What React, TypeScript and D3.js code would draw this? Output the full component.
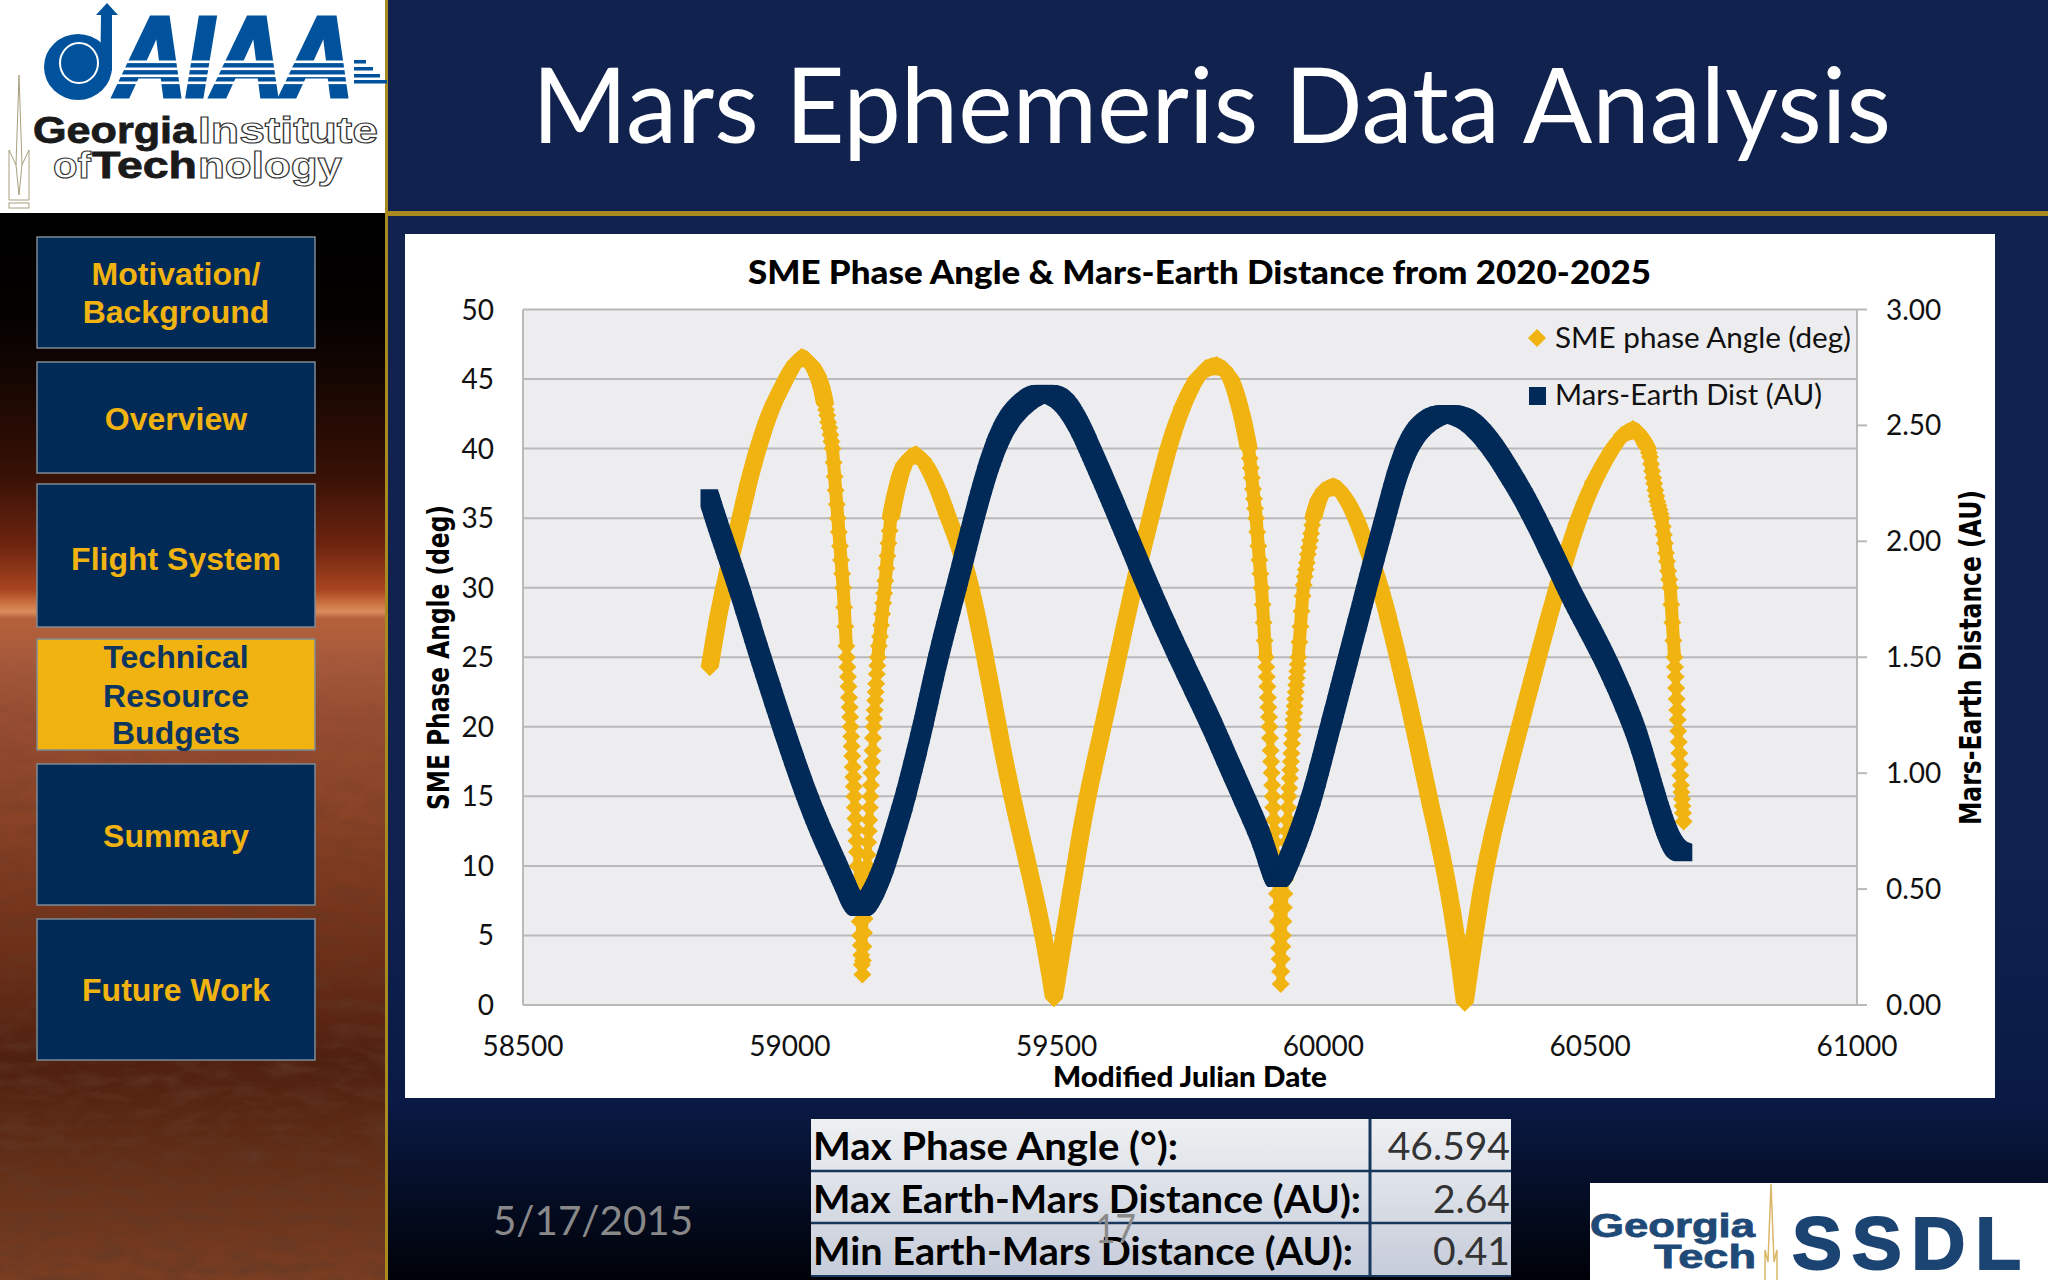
import React from "react";
import * as d3 from "d3";

type Pair = [number, number];

const chartTitle = "SME Phase Angle & Mars-Earth Distance from 2020-2025";
const xTicks = [58500, 59000, 59500, 60000, 60500, 61000];
const phaseTicks = [0, 5, 10, 15, 20, 25, 30, 35, 40, 45, 50];
const distTicks = [0, 0.5, 1, 1.5, 2, 2.5, 3];

// SME phase angle, [MJD, degrees]
const phaseRise1: Pair[] = [
  [58850, 24.3], [58858, 26.2], [58867, 28.2], [58877, 30], [58892, 32.6], [58907, 34.9], [58922, 37.5], [58940, 40], [58955, 41.8], [58970, 43.3], [58985, 44.4], [58998, 45.4], [59010, 46.2], [59022, 46.59], [59032, 46.4], [59042, 46], [59052, 45.3], [59060, 44.4], [59066, 43.2],
];
const phaseCusp1: Pair[] = [
  [59068, 42.8], [59070, 42.4], [59072, 41.9], [59074, 41.5], [59076, 41], [59078, 40.5], [59080, 40], [59082, 39], [59084, 38], [59086, 37], [59088, 36], [59090, 35], [59092, 34], [59094, 33], [59096, 32], [59098, 31], [59100, 30], [59102, 28.6], [59104, 27.2], [59106, 25.8],
  [59107, 25], [59108, 24.3], [59109, 23.6], [59110, 22.9], [59111, 22.1], [59112, 21.4], [59113, 20.7], [59114, 20], [59115, 19.3], [59116, 18.6], [59117, 17.9], [59118, 17.1], [59119, 16.4], [59120, 15.7], [59121, 15], [59122, 14.2], [59123, 13.4], [59124, 12.6], [59125, 11.8], [59126, 11], [59127, 10], [59128, 9], [59129, 8], [59130, 7], [59131, 6], [59132, 5], [59133, 4.3], [59134, 3.6], [59135, 2.9], [59136, 2.2],
  [59137, 3.2], [59138, 4.2], [59139, 5.2], [59140, 6.2], [59141, 7.1], [59142, 8], [59143, 8.7], [59144, 9.4], [59145, 10], [59146, 10.8], [59147, 11.7], [59148, 12.5], [59149, 13.3], [59150, 14.2], [59151, 15], [59152, 15.8], [59153, 16.7], [59154, 17.5], [59155, 18.3], [59156, 19.2], [59157, 20], [59158, 20.6], [59159, 21.2], [59160, 21.9], [59161, 22.5], [59162, 23.1], [59163, 23.8], [59164, 24.4], [59165, 25],
  [59167, 25.8], [59169, 26.5], [59171, 27.3], [59173, 28.1], [59175, 28.9], [59177, 29.6], [59179, 30.5], [59181, 31.4], [59183, 32.3], [59185, 33.2], [59187, 34.1], [59189, 35],
];
const phaseArc2: Pair[] = [
  [59196, 36.4], [59206, 38], [59214, 38.9], [59225, 39.4], [59237, 39.6], [59250, 39.2], [59262, 38.4], [59280, 36.9], [59297, 35], [59318, 33], [59340, 30], [59364, 25.5], [59390, 20], [59416, 15], [59447, 10], [59476, 5], [59495, 0.5], [59514, 5], [59535, 10], [59557, 15], [59587, 20], [59615, 25], [59643, 30], [59676, 35], [59708, 40], [59735, 43], [59760, 45], [59780, 45.8], [59800, 46], [59815, 45.7], [59828, 45], [59840, 43.5], [59850, 42], [59860, 40],
];
const phaseCusp2: Pair[] = [
  [59862, 39.3], [59864, 38.6], [59866, 37.9], [59868, 37.1], [59870, 36.4], [59872, 35.7], [59874, 35], [59876, 34], [59878, 33], [59880, 32], [59882, 31], [59884, 30], [59886, 28.8], [59888, 27.5], [59890, 26.2], [59892, 25],
  [59893, 24.3], [59894, 23.6], [59895, 22.9], [59896, 22.1], [59897, 21.4], [59898, 20.7], [59899, 20], [59900, 19.2], [59901, 18.3], [59902, 17.5], [59903, 16.7], [59904, 15.8], [59905, 15], [59906, 14.2], [59907, 13.3], [59908, 12.5], [59909, 11.7], [59910, 10.8], [59911, 10], [59912, 9], [59913, 8], [59914, 7], [59915, 6], [59916, 5], [59917, 4.1], [59918, 3.3], [59919, 2.4], [59920, 1.5],
  [59921, 2.4], [59922, 3.3], [59923, 4.2], [59924, 5], [59925, 6], [59926, 7], [59927, 8], [59928, 9], [59929, 10], [59930, 10.8], [59931, 11.7], [59932, 12.5], [59933, 13.3], [59934, 14.2], [59935, 15], [59936, 15.6], [59937, 16.3], [59938, 16.9], [59939, 17.5], [59940, 18.1], [59941, 18.8], [59942, 19.4], [59943, 20], [59944, 20.5], [59945, 21], [59946, 21.5], [59947, 22], [59948, 22.5], [59949, 23], [59950, 23.5], [59951, 24], [59952, 24.5], [59953, 25],
  [59955, 26.1], [59957, 27.2], [59959, 28.3], [59961, 29.4], [59963, 30.2], [59965, 30.8], [59967, 31.3], [59969, 31.8], [59971, 32.4], [59973, 32.9], [59975, 33.4], [59977, 33.9], [59979, 34.5], [59981, 35],
];
const phaseArc3: Pair[] = [
  [59990, 36.3], [60000, 37], [60018, 37.3], [60030, 37.1], [60044, 36.3], [60062, 35], [60085, 32.5], [60108, 30], [60140, 25], [60170, 20], [60197, 15], [60227, 10], [60249, 5], [60265, 0.17], [60283, 5], [60303, 10], [60334, 15], [60368, 20], [60402, 25], [60440, 30.3], [60474, 34.6], [60505, 37.6], [60541, 40], [60560, 41], [60580, 41.4], [60590, 41.2], [60600, 40.6], [60608, 40],
];
const phaseEnd: Pair[] = [
  [60610, 39.7], [60612, 39.4], [60614, 38.9], [60616, 38.4], [60618, 37.9], [60620, 37.5], [60622, 37], [60624, 36.6], [60626, 36.2], [60628, 35.9], [60630, 35.6], [60632, 35.3], [60634, 35], [60636, 34.4], [60638, 33.8], [60640, 33.2], [60642, 32.5], [60644, 31.9], [60646, 31.2], [60648, 30.6], [60650, 30], [60652, 28.8], [60654, 27.5], [60656, 26.2], [60658, 25],
  [60659, 24.3], [60660, 23.6], [60661, 22.8], [60662, 22], [60663, 21.2], [60664, 20.5], [60665, 19.7], [60666, 18.9], [60667, 18.1], [60668, 17.3], [60669, 16.5], [60670, 15.8], [60671, 15.3], [60672, 14.8], [60673, 14.3], [60674, 13.8], [60675, 13.2],
];
const phaseData = [...phaseRise1, ...phaseCusp1, ...phaseArc2, ...phaseCusp2, ...phaseArc3, ...phaseEnd];

// Mars-Earth distance, [MJD, AU]
const distFall1: Pair[] = [
  [58849, 2.187], [58862, 2.09], [58885, 1.935], [58905, 1.8], [58925, 1.65], [58945, 1.5], [58966, 1.35], [58987, 1.2], [59010, 1.045], [59032, 0.9], [59060, 0.74], [59090, 0.59], [59105, 0.51], [59118, 0.44], [59131, 0.414],
];
const distRise1: Pair[] = [
  [59144, 0.435], [59160, 0.5], [59178, 0.6], [59197, 0.745], [59217, 0.9], [59232, 1.04], [59248, 1.19], [59262, 1.335], [59276, 1.48], [59294, 1.645], [59312, 1.8], [59328, 1.945], [59345, 2.1], [59365, 2.27], [59385, 2.41], [59405, 2.51], [59425, 2.57], [59445, 2.61], [59460, 2.632], [59477, 2.64],
];
const distFall2: Pair[] = [
  [59495, 2.632], [59510, 2.61], [59525, 2.57], [59545, 2.49], [59564, 2.39], [59588, 2.265], [59609, 2.15], [59640, 1.98], [59672, 1.8], [59701, 1.65], [59731, 1.5], [59762, 1.35], [59793, 1.2], [59821, 1.05], [59850, 0.9], [59881, 0.74], [59892, 0.66], [59902, 0.59], [59908, 0.555], [59913, 0.544],
];
const distRise2: Pair[] = [
  [59918, 0.55], [59925, 0.57], [59934, 0.615], [59956, 0.74], [59979, 0.9], [59996, 1.05], [60013, 1.2], [60030, 1.35], [60047, 1.5], [60064, 1.65], [60081, 1.8], [60098, 1.95], [60116, 2.1], [60135, 2.27], [60155, 2.4], [60175, 2.48], [60200, 2.53], [60220, 2.548], [60235, 2.55],
];
const distFall3: Pair[] = [
  [60250, 2.545], [60270, 2.525], [60290, 2.485], [60310, 2.43], [60330, 2.365], [60350, 2.29], [60379, 2.18], [60420, 1.99], [60458, 1.8], [60490, 1.66], [60527, 1.5], [60560, 1.33], [60588, 1.17], [60607, 1.02], [60622, 0.9], [60638, 0.78], [60653, 0.695], [60664, 0.665], [60675, 0.658],
];
const distData = [...distFall1, ...distRise1, ...distFall2, ...distRise2, ...distFall3];

const navItems = [
  { lines: ["Motivation/", "Background"], base: [285, 323], y: 237, h: 111, active: false },
  { lines: ["Overview"], base: [430], y: 362, h: 111, active: false },
  { lines: ["Flight System"], base: [570], y: 484, h: 143, active: false },
  { lines: ["Technical", "Resource", "Budgets"], base: [668, 707, 744], y: 639, h: 111, active: true },
  { lines: ["Summary"], base: [847], y: 764, h: 141, active: false },
  { lines: ["Future Work"], base: [1001], y: 919, h: 141, active: false },
];
const tableLabels = ["Max Phase Angle (°):", "Max Earth-Mars Distance (AU):", "Min Earth-Mars Distance (AU):"];
const tableLabelWidths = [365, 548, 540];
const tableValues = ["46.594", "2.64", "0.41"];

const GOLD = "#F0B310";
const NAVY = "#022A58";
const LATO = "Lato, 'Open Sans', sans-serif";
const ARIAL = "'Liberation Sans', Arial, sans-serif";

const x = d3.scaleLinear().domain([58500, 61000]).range([523, 1857]);
const yL = d3.scaleLinear().domain([0, 50]).range([1005, 309.5]);
const yR = d3.scaleLinear().domain([0, 3]).range([1005, 309.5]);

const diamondR = 9;
const squareR = 8.7;
const diamond = (px: number, py: number): Pair[] => [
  [px - diamondR, py], [px, py - diamondR], [px + diamondR, py], [px, py + diamondR],
];
const square = (px: number, py: number): Pair[] => [
  [px - squareR, py - squareR], [px + squareR, py - squareR], [px + squareR, py + squareR], [px - squareR, py + squareR],
];
const pts = (a: Pair[]) => a.map((p) => p.map((v) => v.toFixed(1)).join(",")).join(" ");

// Runs a D3 curve and flattens its beziers to a polyline, in pixels.
function flatten(points: Pair[]): Pair[] {
  const out: Pair[] = [];
  let cx = 0;
  let cy = 0;
  const ctx: any = {
    moveTo(a: number, b: number) { out.push([a, b]); cx = a; cy = b; },
    lineTo(a: number, b: number) { out.push([a, b]); cx = a; cy = b; },
    bezierCurveTo(a: number, b: number, c: number, d: number, e: number, f: number) {
      for (let k = 1; k <= 6; k++) {
        const t = k / 6;
        const u = 1 - t;
        out.push([
          u * u * u * cx + 3 * u * u * t * a + 3 * u * t * t * c + t * t * t * e,
          u * u * u * cy + 3 * u * u * t * b + 3 * u * t * t * d + t * t * t * f,
        ]);
      }
      cx = e;
      cy = f;
    },
    closePath() {},
  };
  d3.line().curve(d3.curveBasis).context(ctx)(points);
  return out;
}

// The band that a marker shape draws when it is dragged along a curve.
function sweep(points: Pair[], shape: (a: number, b: number) => Pair[]): Pair[][] {
  const line = flatten(points);
  const out: Pair[][] = [];
  for (let i = 1; i < line.length; i++) {
    const hull = d3.polygonHull([...shape(line[i - 1][0], line[i - 1][1]), ...shape(line[i][0], line[i][1])]);
    if (hull) out.push(hull as Pair[]);
  }
  return out;
}

// Runs of the phase series spaced more than two days apart, broken at the sharp minima.
function sparseRuns(data: Pair[]): Pair[][] {
  const runs: Pair[][] = [];
  let run: Pair[] = [];
  for (let i = 1; i < data.length; i++) {
    if (data[i][0] - data[i - 1][0] > 2) {
      if (!run.length) run.push(data[i - 1]);
      run.push(data[i]);
      const next = data[i + 1];
      if (next && data[i][1] < data[i - 1][1] && data[i][1] < next[1]) {
        runs.push(run);
        run = [];
      }
    } else if (run.length) {
      runs.push(run);
      run = [];
    }
  }
  if (run.length) runs.push(run);
  return runs;
}

const phasePx: Pair[] = phaseData.map(([m, v]) => [x(m), yL(v)]);
const phaseBands = sparseRuns(phaseData).flatMap((r) => sweep(r.map(([m, v]): Pair => [x(m), yL(v)]), diamond));
const distBands = sweep(distData.map(([m, v]): Pair => [x(m), yR(v)]), square);

function Outlined(props: { x: number; y: number; w: number; size: number; children: string }) {
  return (
    <text x={props.x} y={props.y} textLength={props.w} lengthAdjust="spacingAndGlyphs" fontFamily={ARIAL} fontWeight={700} fontSize={props.size} fill="#fff" stroke="#333" strokeWidth={1.1}>
      {props.children}
    </text>
  );
}

function Heavy(props: { x: number; y: number; w: number; size: number; fill: string; extra?: number; children: string }) {
  return (
    <text x={props.x} y={props.y} textLength={props.w} lengthAdjust="spacingAndGlyphs" fontFamily={ARIAL} fontWeight={700} fontSize={props.size} fill={props.fill} stroke={props.fill} strokeWidth={props.extra ?? 0.8}>
      {props.children}
    </text>
  );
}

export default function App() {
  const center = 176;
  return (
    <svg width={2048} height={1280} viewBox="0 0 2048 1280" style={{ position: "absolute", left: 0, top: 0, display: "block" }}>
      <defs>
        <linearGradient id="side" x1="0" y1="0" x2="0" y2="1">
          <stop offset="0" stopColor="#000" />
          <stop offset="0.094" stopColor="#040100" />
          <stop offset="0.157" stopColor="#160602" />
          <stop offset="0.25" stopColor="#3a1206" />
          <stop offset="0.312" stopColor="#6e2510" />
          <stop offset="0.353" stopColor="#a8451f" />
          <stop offset="0.368" stopColor="#d07a48" />
          <stop offset="0.374" stopColor="#d88c5c" />
          <stop offset="0.38" stopColor="#b5613a" />
          <stop offset="0.417" stopColor="#a65a3c" />
          <stop offset="0.469" stopColor="#974e32" />
          <stop offset="0.55" stopColor="#8c4528" />
          <stop offset="0.69" stopColor="#6e3018" />
          <stop offset="0.794" stopColor="#4f2010" />
          <stop offset="0.86" stopColor="#5c2a14" />
          <stop offset="1" stopColor="#7a3e22" />
        </linearGradient>
        <linearGradient id="main" x1="0" y1="0" x2="0" y2="1">
          <stop offset="0" stopColor="#11224F" />
          <stop offset="0.65" stopColor="#11224F" />
          <stop offset="0.86" stopColor="#0a1a45" />
          <stop offset="1" stopColor="#000208" />
        </linearGradient>
        <linearGradient id="cell" x1="0" y1="0" x2="0" y2="1">
          <stop offset="0" stopColor="#eef0f2" />
          <stop offset="1" stopColor="#c6ccda" />
        </linearGradient>
        <linearGradient id="fade" gradientUnits="userSpaceOnUse" x1="0" y1="650" x2="0" y2="1100">
          <stop offset="0" stopColor="#000" />
          <stop offset="1" stopColor="#fff" />
        </linearGradient>
        <mask id="rockMask" maskUnits="userSpaceOnUse" x="0" y="650" width="385" height="630">
          <rect x={0} y={650} width={385} height={630} fill="url(#fade)" />
        </mask>
        <filter id="rock" x="0" y="0" width="1" height="1">
          <feTurbulence type="fractalNoise" baseFrequency="0.03 0.08" numOctaves={4} seed={7} />
          <feColorMatrix values="0 0 0 0 0.12  0 0 0 0 0.04  0 0 0 0 0.02  1.5 0 0 0 -0.6" />
        </filter>
      </defs>

      <rect width={2048} height={1280} fill="url(#main)" />
      <rect x={0} y={213} width={385} height={1067} fill="url(#side)" />
      <g mask="url(#rockMask)">
        <rect x={0} y={650} width={385} height={630} filter="url(#rock)" />
      </g>
      <rect x={385} y={0} width={3} height={1280} fill="#A98A1E" />
      <rect x={385} y={211} width={1663} height={5} fill="#A98A1E" />

      {/* AIAA / Georgia Tech logo */}
      <rect x={0} y={0} width={385} height={213} fill="#fff" />
      <ellipse cx={78} cy={67} rx={34} ry={33} fill="#00529C" />
      <ellipse cx={79} cy={63} rx={19} ry={20} fill="none" stroke="#fff" strokeWidth={2} />
      <path d="M 96 15 L 107 3 L 118 15 L 112 15 L 112 70 L 100 90 L 101 15 Z" fill="#00529C" />
      <text x={116} y={96} textLength={237} lengthAdjust="spacingAndGlyphs" fontFamily={ARIAL} fontWeight={700} fontStyle="italic" fontSize={114} fill="#00529C" stroke="#00529C" strokeWidth={5}>AIAA</text>
      {[62, 69, 76, 83].map((v, i) => (
        <rect key={v} x={122 - i * 2} y={v - 1.5} width={232 + i * 2} height={2.6} fill="#fff" />
      ))}
      {[60, 67, 74, 80].map((v, i) => (
        <rect key={v} x={354} y={v} width={12 + i * 7} height={3.5} fill="#00529C" />
      ))}
      <Heavy x={33} y={143} w={163} size={37} fill="#1a1a1a">Georgia</Heavy>
      <Outlined x={198} y={143} w={180} size={37}>Institute</Outlined>
      <Outlined x={53} y={178} w={38} size={37}>of</Outlined>
      <Heavy x={92} y={178} w={105} size={37} fill="#1a1a1a">Tech</Heavy>
      <Outlined x={198} y={178} w={144} size={37}>nology</Outlined>
      <path d="M 19 75 L 16 165 L 9 150 L 9 200 L 29 200 L 29 150 L 22 165 Z M 16 165 L 19 195 L 22 165" fill="none" stroke="#a89f80" strokeWidth={1} />
      <rect x={9} y={203} width={20} height={5} fill="none" stroke="#a89f80" strokeWidth={1} />

      <text x={1211.5} y={143} textAnchor="middle" textLength={1359} lengthAdjust="spacingAndGlyphs" fontFamily={LATO} fontSize={104} fill="#fff">Mars Ephemeris Data Analysis</text>

      {/* navigation */}
      {navItems.map((n) => (
        <g key={n.lines[0]}>
          <rect x={37} y={n.y} width={278} height={n.h} fill={n.active ? GOLD : "#022A57"} stroke="#7e8a96" strokeWidth={1.5} />
          {n.lines.map((l, i) => (
            <text key={l} x={center} y={n.base[i]} textAnchor="middle" fontFamily={ARIAL} fontWeight={700} fontSize={32} fill={n.active ? "#0E3560" : GOLD}>{l}</text>
          ))}
        </g>
      ))}

      {/* chart panel */}
      <rect x={405} y={234} width={1590} height={864} fill="#fff" />
      <text x={1199.5} y={284} textAnchor="middle" textLength={903} lengthAdjust="spacingAndGlyphs" fontFamily={LATO} fontWeight={900} fontSize={33} fill="#000">{chartTitle}</text>

      <rect x={x(58500)} y={yL(50)} width={x(61000) - x(58500)} height={yL(0) - yL(50)} fill="#EDEDEF" />
      {phaseTicks.map((t) => (
        <line key={t} x1={x(58500)} x2={x(61000)} y1={yL(t)} y2={yL(t)} stroke="#B9B9BA" strokeWidth={2} />
      ))}
      <line x1={x(58500)} x2={x(58500)} y1={yL(50)} y2={yL(0)} stroke="#B9B9BA" strokeWidth={2} />
      <line x1={x(61000)} x2={x(61000)} y1={yL(50)} y2={yL(0)} stroke="#B9B9BA" strokeWidth={2} />
      {distTicks.map((t) => (
        <line key={t} x1={x(61000)} x2={x(61000) + 10} y1={yR(t)} y2={yR(t)} stroke="#B9B9BA" strokeWidth={2} />
      ))}

      {phaseTicks.map((t) => (
        <text key={t} x={494} y={yL(t) + 10} textAnchor="end" fontFamily={LATO} fontSize={28} fill="#111">{t}</text>
      ))}
      {distTicks.map((t) => (
        <text key={t} x={1886} y={yR(t) + 10} fontFamily={LATO} fontSize={28} fill="#111">{t.toFixed(2)}</text>
      ))}
      {xTicks.map((t) => (
        <text key={t} x={x(t)} y={1056} textAnchor="middle" fontFamily={LATO} fontSize={28} fill="#111">{t}</text>
      ))}
      <text x={1190} y={1087} textAnchor="middle" textLength={274} lengthAdjust="spacingAndGlyphs" fontFamily={LATO} fontWeight={900} fontSize={28} fill="#000">Modified Julian Date</text>
      <text transform="translate(449,657.5) rotate(-90)" textAnchor="middle" textLength={305} lengthAdjust="spacingAndGlyphs" fontFamily="'DejaVu Sans', sans-serif" fontWeight={700} fontSize={30} fill="#000">SME Phase Angle (deg)</text>
      <text transform="translate(1981,657.5) rotate(-90)" textAnchor="middle" textLength={335} lengthAdjust="spacingAndGlyphs" fontFamily="'DejaVu Sans', sans-serif" fontWeight={700} fontSize={30} fill="#000">Mars-Earth Distance (AU)</text>

      {/* SME phase angle series */}
      {phasePx.slice(1).map(([px, py], i) => {
        const gap = phaseData[i + 1][0] - phaseData[i][0];
        return gap > 2 ? null : (
          <line key={i} x1={phasePx[i][0]} y1={phasePx[i][1]} x2={px} y2={py} stroke={GOLD} strokeWidth={gap === 2 ? 13 : 8} strokeLinecap="round" />
        );
      })}
      {phaseBands.map((h, i) => (
        <polygon key={i} points={pts(h)} fill={GOLD} />
      ))}
      {phasePx.map(([px, py], i) => (
        <polygon key={i} points={pts(diamond(px, py))} fill={GOLD} />
      ))}

      {/* Mars-Earth distance series */}
      {distBands.map((h, i) => (
        <polygon key={i} points={pts(h)} fill={NAVY} />
      ))}

      {/* legend */}
      <polygon points="1537,329 1546,338 1537,347 1528,338" fill={GOLD} />
      <text x={1555} y={348} textLength={296} lengthAdjust="spacingAndGlyphs" fontFamily={LATO} fontSize={28} fill="#111">SME phase Angle (deg)</text>
      <rect x={1529} y={387} width={17} height={18} fill={NAVY} />
      <text x={1555} y={405} textLength={267} lengthAdjust="spacingAndGlyphs" fontFamily={LATO} fontSize={28} fill="#111">Mars-Earth Dist (AU)</text>

      {/* footer table */}
      <rect x={811} y={1119} width={700} height={157} fill="url(#cell)" />
      {[1171, 1223].map((v) => (
        <line key={v} x1={811} x2={1511} y1={v} y2={v} stroke="#16365C" strokeWidth={2.5} />
      ))}
      <line x1={811} x2={1511} y1={1276} y2={1276} stroke="#16365C" strokeWidth={2} />
      <line x1={1370} x2={1370} y1={1119} y2={1276} stroke="#16365C" strokeWidth={3} />
      {tableLabels.map((l, i) => (
        <g key={l}>
          <text x={813} y={1160 + i * 52.5} textLength={tableLabelWidths[i]} lengthAdjust="spacingAndGlyphs" fontFamily={LATO} fontWeight={700} fontSize={39} fill="#000">{l}</text>
          <text x={1510} y={1160 + i * 52.5} textAnchor="end" fontFamily={LATO} fontSize={39} fill="#333">{tableValues[i]}</text>
        </g>
      ))}
      <text x={493} y={1235} textLength={200} lengthAdjust="spacingAndGlyphs" fontFamily={LATO} fontSize={41} fill="#898989">5/17/2015</text>
      <text x={1095} y={1243} textLength={41} lengthAdjust="spacingAndGlyphs" fontFamily={LATO} fontSize={41} fill="#898989">17</text>

      {/* SSDL logo */}
      <rect x={1590} y={1183} width={458} height={97} fill="#fff" />
      <Heavy x={1590} y={1237} w={165} size={33} fill="#1F4A78">Georgia</Heavy>
      <Heavy x={1654} y={1268} w={102} size={33} fill="#1F4A78">Tech</Heavy>
      <path d="M 1771 1184 L 1768 1262 L 1765 1250 L 1765 1280 M 1771 1184 L 1774 1262 L 1777 1250 L 1777 1280" fill="none" stroke="#D9B868" strokeWidth={1.5} />
      <text x={1792} y={1269} textLength={229} lengthAdjust="spacing" fontFamily={ARIAL} fontWeight={700} fontSize={75} fill="#1C4473" stroke="#1C4473" strokeWidth={2}>SSDL</text>
    </svg>
  );
}
